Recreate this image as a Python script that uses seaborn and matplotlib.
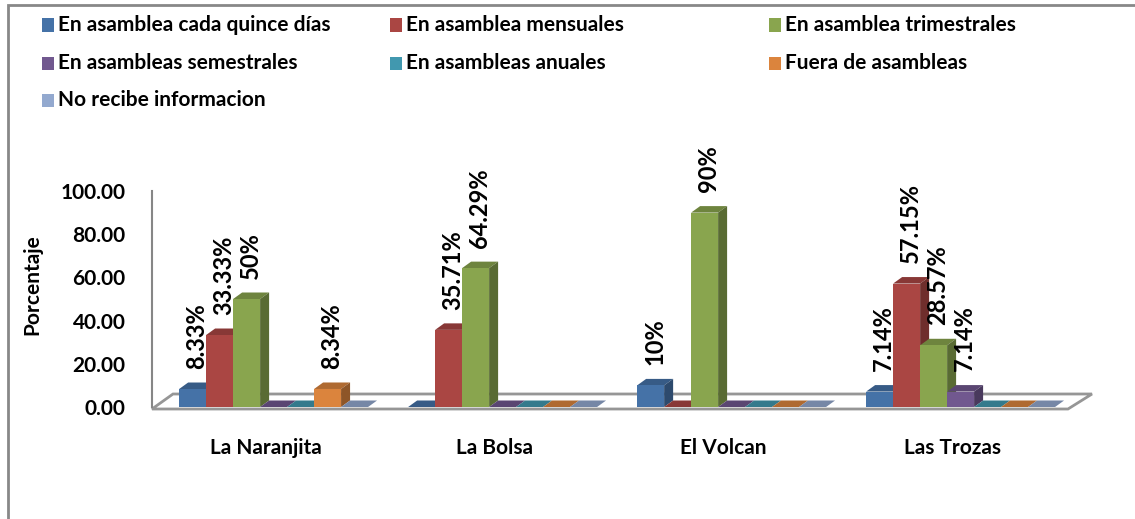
import numpy as np
import pandas as pd
import matplotlib
matplotlib.use("Agg")
import matplotlib.pyplot as plt
import matplotlib.colors as mcolors
from matplotlib.patches import Polygon, Rectangle
from matplotlib import transforms
import seaborn as sns

# Datos (porcentaje por comunidad)
comunidades = ["La Naranjita", "La Bolsa", "El Volcan", "Las Trozas"]
series = ["En asamblea cada quince días", "En asamblea mensuales", "En asamblea trimestrales",
          "En asambleas semestrales", "En asambleas anuales", "Fuera de asambleas",
          "No recibe informacion"]
quincenal = [8.33, 0, 10, 7.14]
mensual = [33.33, 35.71, 0, 57.15]
trimestral = [50, 64.29, 90, 28.57]
semestral = [0, 0, 0, 7.14]
anual = [0, 0, 0, 0]
fuera = [8.34, 0, 0, 0]
no_recibe = [0, 0, 0, 0]
y_ticks = [0, 20, 40, 60, 80, 100]
colores = ["#4572A7", "#AA4643", "#89A54E", "#71588F", "#4198AF", "#DB843D", "#93A9CF"]

valores = [quincenal, mensual, trimestral, semestral, anual, fuera, no_recibe]
rows = []
for serie, vals in zip(series, valores):
    for com, v in zip(comunidades, vals):
        rows.append({"comunidad": com, "serie": serie, "porcentaje": v})
df = pd.DataFrame(rows)

sns.set_theme(style="white")
plt.rcParams["font.family"] = ["Lato", "DejaVu Sans"]
plt.rcParams["font.weight"] = "bold"

W, H = 1135, 519
fig = plt.figure(figsize=(W / 100, H / 100), dpi=100)
fig.patch.set_facecolor("white")

# axes placed in pixels: y axis at x=152, floor front at x=1068, 0 at y=407, 100 at y=191
ax = fig.add_axes([152 / W, (H - 407) / H, (1068 - 152) / W, 216 / H])
ax.set_facecolor("none")

sns.barplot(data=df, x="comunidad", y="porcentaje", hue="serie", order=comunidades,
            hue_order=series, palette=colores, saturation=1, width=0.825, gap=0,
            linewidth=0, errorbar=None, legend=False, ax=ax)

ax.set_xlim(-0.531, 3.469)
ax.set_ylim(0, 100)

to_disp = ax.transData.transform
to_data = ax.transData.inverted().transform


def poly(points, offsets, **kw):
    d = to_disp(np.array(points, dtype=float)) + np.array(offsets, dtype=float)
    return Polygon(to_data(d), closed=True, **kw)


# floor of the 3D chart
x0, x1 = ax.get_xlim()
ax.add_patch(poly([(x0, 0), (x1, 0), (x1, 0), (x0, 0)],
                  [(0, -2), (0, -2), (24, 13), (21, 13)],
                  facecolor="white", edgecolor="#969696", linewidth=2,
                  clip_on=False, zorder=1))

# depth faces for every bar
dx, dy = 9, 6.5
bars = sorted([p for p in ax.patches if isinstance(p, Rectangle)], key=lambda p: p.get_x())
for k, p in enumerate(bars):
    x, w, h = p.get_x(), p.get_width(), p.get_height()
    base = mcolors.to_rgb(p.get_facecolor())
    top_c = tuple(c * 0.8 for c in base)
    side_c = tuple(c * 0.65 for c in base)
    z = 3 + 0.01 * k
    p.set_zorder(z)
    p.set_clip_on(False)
    ax.add_patch(poly([(x, h), (x + w, h), (x + w, h), (x, h)],
                      [(0, 0), (0, 0), (dx, dy), (dx, dy)],
                      facecolor=top_c, edgecolor="none", clip_on=False, zorder=z - 0.005))
    if h > 0:
        ax.add_patch(poly([(x + w, 0), (x + w, h), (x + w, h), (x + w, 0)],
                          [(0, 0), (0, 0), (dx, dy), (dx, dy)],
                          facecolor=side_c, edgecolor="none", clip_on=False, zorder=z - 0.005))
        ax.annotate(f"{h:g}%", xy=(x + w / 2, h), xytext=(3, 14.5), textcoords="offset points",
                    rotation=90, ha="center", va="bottom", fontsize=17,
                    fontweight="bold", color="black", zorder=10, annotation_clip=False)

# axes styling
for s in ["top", "right", "bottom"]:
    ax.spines[s].set_visible(False)
ax.spines["left"].set_color("#868686")
ax.spines["left"].set_linewidth(1.5)
ax.set_yticks(y_ticks)
ax.set_yticklabels([f"{t:.2f}" for t in y_ticks])
ax.tick_params(axis="y", direction="out", length=6, width=1.2, color="#868686",
               pad=13, labelsize=15, labelcolor="black")
ax.tick_params(axis="x", length=0, pad=22, labelsize=15, labelcolor="black")
for lbl in ax.get_xticklabels():
    lbl.set_fontweight("bold")
    lbl.set_transform(lbl.get_transform() + transforms.ScaledTranslation(-8 / 100, 0, fig.dpi_scale_trans))
for lbl in ax.get_yticklabels():
    lbl.set_fontweight("bold")
ax.set_xlabel("")
ax.set_ylabel("")
ax.grid(False)

fig.text(32 / W, 1 - 285 / H, "Porcentaje", rotation=90, ha="center", va="center",
         fontsize=15, fontweight="bold", color="black")

# legend, laid out in rows like the original
col_x = [42, 390, 769]
row_y = [25, 63, 100.5]
for i, (name, col) in enumerate(zip(series, colores)):
    r, c = divmod(i, 3)
    fig.add_artist(Rectangle((col_x[c] / W, 1 - (row_y[r] + 6.5) / H), 12 / W, 13 / H,
                             transform=fig.transFigure, facecolor=col, edgecolor="none"))
    fig.text((col_x[c] + 16) / W, 1 - row_y[r] / H, name, ha="left", va="center",
             fontsize=15, fontweight="bold", color="black")

# chart frame (continues past right and bottom edge)
fig.add_artist(Rectangle((8 / W, -0.1), 1.2, 1.1 - 5 / H, transform=fig.transFigure,
                         fill=False, edgecolor="#888888", linewidth=2))

fig.savefig("out.png", dpi=100, facecolor="white")
